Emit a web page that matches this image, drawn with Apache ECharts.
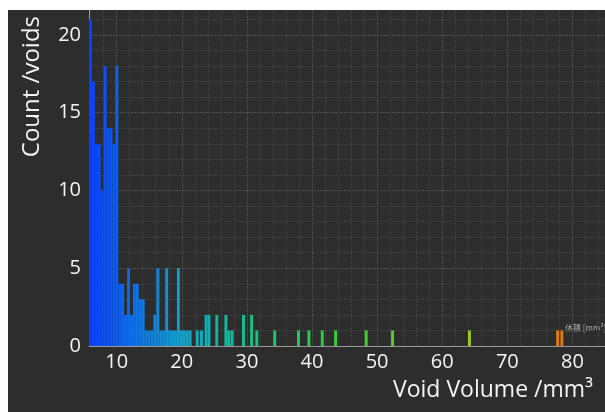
<!DOCTYPE html>
<html>
<head>
<meta charset="utf-8">
<script src="https://cdn.jsdelivr.net/npm/echarts@6/dist/echarts.min.js"></script>
<style>
  html, body { margin: 0; padding: 0; background: #ffffff; width: 605px; height: 412px; overflow: hidden; }
  #chart { position: absolute; left: 8px; top: 10px; width: 597px; height: 402px; }
</style>
</head>
<body>
<div id="chart"></div>
<script>
// Histogram of void volumes: left edge of each bin (mm^3) and count of voids
const BIN_WIDTH = 0.45;
const binStarts = [
  5.75, 6.20, 6.65, 7.10, 7.55, 8.00, 8.45, 8.90, 9.35, 9.80,
  10.25, 10.70, 11.15, 11.60, 12.05, 12.50, 12.95, 13.40, 13.85, 14.30,
  14.75, 15.20, 15.65, 16.10, 16.55, 17.00, 17.45, 17.90, 18.35, 18.80,
  19.25, 19.70, 20.15, 20.60, 21.05,
  22.15, 22.80, 23.50, 23.95, 25.15, 26.55, 27.00, 27.50, 29.25, 30.50,
  31.30, 34.05, 37.70, 39.30, 41.35, 43.40, 48.10, 52.15, 63.95, 77.50, 78.15
];
const counts = [
  21, 17, 13, 13, 10, 18, 14, 14, 13, 18,
  4, 4, 2, 5, 2, 4, 4, 3, 3, 1,
  1, 1, 2, 5, 1, 1, 5, 1, 1, 1,
  5, 1, 1, 1, 1,
  1, 1, 2, 2, 2, 2, 1, 1, 2, 2,
  1, 1, 1, 1, 1, 1, 1, 1, 1, 1, 1
];
const xMajorTicks = [10, 20, 30, 40, 50, 60, 70, 80];
const xMinorTicks = [6, 8, 12, 14, 16, 18, 22, 24, 26, 28, 32, 34, 36, 38, 42, 44, 46, 48, 52, 54, 56, 58, 62, 64, 66, 68, 72, 74, 76, 78, 82, 84];
const yMajorTicks = [0, 5, 10, 15, 20];
const yMinorTicks = [1, 2, 3, 4, 6, 7, 8, 9, 11, 12, 13, 14, 16, 17, 18, 19, 21];
const xAxisTitle = 'Void Volume /mm³';
const yAxisTitle = 'Count /voids';
const cornerNote = '体積 [mm³]';
const colorStops = ['#0a3cff', '#0e70e8', '#12a2c8', '#12bc9c', '#1cc868', '#2ed040', '#48d020', '#78d020', '#aac820', '#d0a018', '#e26a10'];

const data = binStarts.map((s, i) => [s, counts[i]]);
const FONT = '"Open Sans", "Noto Sans", sans-serif';
const X_MIN = 5.75, X_MAX = 85, Y_MIN = 0, Y_MAX = 21.6;

const chart = echarts.init(document.getElementById('chart'), null, { renderer: 'canvas' });
chart.setOption({
  backgroundColor: '#2d2d2d',
  animation: false,
  grid: { left: 81, right: 0, top: 0, bottom: 66, containLabel: false },
  xAxis: [
    {
      type: 'value', min: X_MIN, max: X_MAX, position: 'bottom',
      axisLine: { show: true, onZero: false, lineStyle: { color: '#9a9a9a', width: 1 } },
      axisTick: { show: false, customValues: xMajorTicks },
      axisLabel: { customValues: xMajorTicks, color: '#f4f4f4', fontSize: 20, fontFamily: FONT, margin: 6 },
      splitLine: { show: true, lineStyle: { color: '#4c4c4c', type: [2, 1], width: 1 } }
    },
    {
      type: 'value', min: X_MIN, max: X_MAX, position: 'bottom',
      axisLine: { show: false }, axisLabel: { show: false },
      axisTick: { show: false, customValues: xMinorTicks },
      splitLine: { show: true, lineStyle: { color: '#3e3e3e', type: [2, 1], width: 1 } }
    }
  ],
  yAxis: [
    {
      type: 'value', min: Y_MIN, max: Y_MAX,
      axisLine: { show: true, onZero: false, lineStyle: { color: '#9a9a9a', width: 1 } },
      axisTick: { show: false, customValues: yMajorTicks },
      axisLabel: { customValues: yMajorTicks, color: '#f4f4f4', fontSize: 20, fontFamily: FONT, margin: 8 },
      splitLine: { show: true, lineStyle: { color: '#505050', type: [2, 1], width: 1 } }
    },
    {
      type: 'value', min: Y_MIN, max: Y_MAX,
      axisLine: { show: false }, axisLabel: { show: false },
      axisTick: { show: false, customValues: yMinorTicks },
      splitLine: { show: true, lineStyle: { color: '#3e3e3e', type: [2, 1], width: 1 } }
    }
  ],
  visualMap: {
    type: 'continuous', show: false, dimension: 0, min: 5, max: 80, seriesIndex: 0,
    inRange: { color: colorStops }
  },
  series: [{
    type: 'custom',
    xAxisIndex: 0, yAxisIndex: 0,
    encode: { x: 0, y: 1 },
    data: data,
    renderItem: function (params, api) {
      const x0 = api.value(0);
      const h = api.value(1);
      const pTop = api.coord([x0, h]);
      const pBot = api.coord([x0 + BIN_WIDTH, 0]);
      return {
        type: 'rect',
        shape: { x: pTop[0], y: pTop[1], width: pBot[0] - pTop[0], height: pBot[1] - pTop[1] },
        style: { fill: api.visual('color') }
      };
    }
  }],
  graphic: [
    {
      type: 'text', left: 12, top: 6, rotation: Math.PI / 2,
      style: { text: yAxisTitle, fill: '#f4f4f4', font: '24px ' + FONT }
    },
    {
      type: 'text', x: 385, y: 380,
      style: { text: xAxisTitle, fill: '#f4f4f4', font: '23px ' + FONT, align: 'left', verticalAlign: 'middle' }
    },
    {
      type: 'text', x: 557, y: 318,
      style: { text: cornerNote, fill: '#aaaaaa', font: '8px "Noto Sans CJK JP", sans-serif', align: 'left', verticalAlign: 'middle' }
    }
  ]
});
</script>
</body>
</html>
